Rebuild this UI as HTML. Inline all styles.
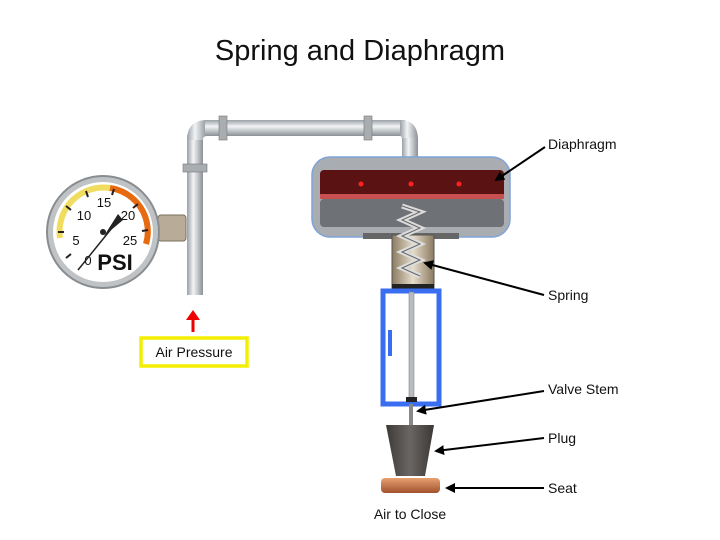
<!DOCTYPE html>
<html><head><meta charset="utf-8"><style>
html,body{margin:0;padding:0;background:#fff;}
svg{display:block;font-family:"Liberation Sans",Arial,sans-serif;}
</style></head><body>
<svg width="720" height="540" viewBox="0 0 720 540" xmlns="http://www.w3.org/2000/svg">
<defs>
<linearGradient id="pv" x1="0" x2="1" y1="0" y2="0"><stop offset="0" stop-color="#9aa0a6"/><stop offset="0.4" stop-color="#f2f4f6"/><stop offset="1" stop-color="#8a9096"/></linearGradient>
<linearGradient id="ph" x1="0" x2="0" y1="0" y2="1"><stop offset="0" stop-color="#9aa0a6"/><stop offset="0.4" stop-color="#f2f4f6"/><stop offset="1" stop-color="#8a9096"/></linearGradient>
<linearGradient id="cu" x1="0" x2="0" y1="0" y2="1"><stop offset="0" stop-color="#e8a070"/><stop offset="1" stop-color="#a0522d"/></linearGradient>
<linearGradient id="plug" x1="0" x2="1"><stop offset="0" stop-color="#3d3a38"/><stop offset="0.5" stop-color="#6a6663"/><stop offset="1" stop-color="#3a3735"/></linearGradient>
<linearGradient id="beige" x1="0" x2="1"><stop offset="0" stop-color="#8a7a60"/><stop offset="0.5" stop-color="#e6dccb"/><stop offset="1" stop-color="#8a7a60"/></linearGradient>
<marker id="ah" markerWidth="10" markerHeight="10" refX="8" refY="5" orient="auto" markerUnits="userSpaceOnUse"><path d="M0,0 L10,5 L0,10 z" fill="#000"/></marker>
</defs>
<text x="360" y="60" font-size="29" text-anchor="middle" fill="#111">Spring and Diaphragm</text>

<rect x="187" y="135" width="16" height="160" fill="url(#pv)"/>
<path d="M187,140 Q187,120 207,120 L207,136 Q203,136 203,140 Z" fill="url(#pv)"/>
<rect x="205" y="120" width="200" height="16" fill="url(#ph)"/>
<path d="M400,120 Q418,120 418,140 L402,140 Q402,136 400,136 Z" fill="url(#pv)"/>
<rect x="402" y="138" width="16" height="25" fill="url(#pv)"/>
<rect x="183" y="164" width="24" height="8" fill="#a8adb2" stroke="#777" stroke-width="0.6"/>
<rect x="219" y="116" width="8" height="24" fill="#a8adb2" stroke="#777" stroke-width="0.6"/>
<rect x="364" y="116" width="8" height="24" fill="#a8adb2" stroke="#777" stroke-width="0.6"/>

<rect x="158" y="215" width="28" height="26" rx="3" fill="#b8ac98" stroke="#7a6f5e"/>
<circle cx="103" cy="232" r="56" fill="#c0c3c6" stroke="#8a8d90" stroke-width="2"/>
<circle cx="103" cy="232" r="50" fill="#fff"/>
<path d="M60,238 A44,44 0 0 1 110,188" fill="none" stroke="#f0dd60" stroke-width="6"/>
<path d="M110,188 A44,44 0 0 1 146,244" fill="none" stroke="#e86a10" stroke-width="6"/>
<g stroke="#222" stroke-width="2">
<line x1="66" y1="258" x2="71" y2="254"/><line x1="58" y1="232" x2="64" y2="232"/>
<line x1="66" y1="206" x2="71" y2="210"/><line x1="86" y1="191" x2="88" y2="197"/>
<line x1="114" y1="189" x2="112" y2="195"/><line x1="138" y1="204" x2="133" y2="208"/>
<line x1="148" y1="230" x2="142" y2="231"/></g>
<g font-size="13" fill="#111" text-anchor="middle">
<text x="84" y="220">10</text><text x="104" y="207">15</text><text x="128" y="220">20</text>
<text x="76" y="245">5</text><text x="130" y="245">25</text><text x="88" y="265">0</text></g>
<text x="115" y="270" font-size="22" font-weight="bold" text-anchor="middle" fill="#111">PSI</text>
<line x1="78" y1="270" x2="120" y2="218" stroke="#222" stroke-width="1.5"/>
<path d="M104,236 L118,214 L123,220 Z" fill="#222"/>
<circle cx="103" cy="232" r="3" fill="#222"/>

<line x1="193" y1="332" x2="193" y2="318" stroke="#e00" stroke-width="3"/>
<path d="M186,320 L193,310 L200,320 Z" fill="#e00"/>
<rect x="141" y="338" width="106" height="28" fill="#fff" stroke="#f4ee00" stroke-width="3.5"/>
<text x="194" y="357" font-size="14" text-anchor="middle" fill="#111">Air Pressure</text>

<rect x="312" y="157" width="198" height="80" rx="18" fill="#a9adb2" stroke="#7fa3d8" stroke-width="1.5"/>
<rect x="320" y="170" width="184" height="28" rx="4" fill="#5a1212"/>
<rect x="320" y="194" width="184" height="5" fill="#c85050"/>
<rect x="320" y="199" width="184" height="28" rx="4" fill="#6e7276"/>
<circle cx="361" cy="184" r="2.5" fill="#f22"/><circle cx="411" cy="184" r="2.5" fill="#f22"/><circle cx="459" cy="184" r="2.5" fill="#f22"/>
<rect x="363" y="233" width="96" height="6" fill="#666"/>
<rect x="392" y="235" width="42" height="55" fill="url(#beige)" stroke="#555"/>
<g fill="none" stroke="#ddd" stroke-width="5">
<path d="M402,206 L420,212 L402,220 L420,228 L402,236 L420,244 L402,252 L420,260 L402,268 L420,276"/></g>
<g fill="none" stroke="#666" stroke-width="1">
<path d="M402,206 L420,212 L402,220 L420,228 L402,236 L420,244 L402,252 L420,260 L402,268 L420,276"/></g>
<rect x="392" y="284" width="42" height="7" fill="#222"/>
<rect x="383" y="291" width="56" height="113" fill="#fff" stroke="#3a6ef0" stroke-width="5"/>
<rect x="388" y="330" width="4" height="26" fill="#3a6ef0"/>
<rect x="409" y="292" width="5" height="108" fill="#b8bcc0" stroke="#777" stroke-width="0.5"/>
<rect x="406" y="397" width="11" height="5" fill="#222"/>
<rect x="409" y="404" width="4" height="22" fill="#888"/>
<path d="M386,425 L434,425 L425,476 L396,476 Z" fill="url(#plug)"/>
<rect x="381" y="478" width="59" height="15" rx="4" fill="url(#cu)"/>
<text x="410" y="519" font-size="14" text-anchor="middle" fill="#111">Air to Close</text>

<g stroke="#000" stroke-width="2" marker-end="url(#ah)">
<line x1="545" y1="147" x2="496" y2="180"/>
<line x1="544" y1="295" x2="425" y2="263"/>
<line x1="544" y1="391" x2="418" y2="411"/>
<line x1="544" y1="438" x2="436" y2="451"/>
<line x1="544" y1="488" x2="447" y2="488"/>
</g>
<g font-size="14" fill="#111">
<text x="548" y="149">Diaphragm</text>
<text x="548" y="300">Spring</text>
<text x="548" y="394">Valve Stem</text>
<text x="548" y="443">Plug</text>
<text x="548" y="493">Seat</text>
</g>
</svg>
</body></html>
